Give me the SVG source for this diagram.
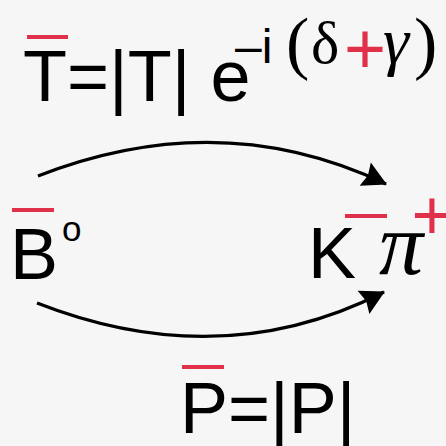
<svg xmlns="http://www.w3.org/2000/svg" width="446" height="446" viewBox="0 0 446 446">
  <defs>
    <marker id="arrow" markerUnits="userSpaceOnUse" markerWidth="34" markerHeight="34" viewBox="-28 -17 32 34" refX="0" refY="0" orient="auto">
      <path d="M1,0 L-23,-13 L-20,0 L-23,13 Z" fill="#000"/>
    </marker>
  </defs>
  <style>
    .sans { font-family: "Liberation Sans", Arial, sans-serif; fill: #000; }
    .serif { font-family: "Liberation Serif", "Times New Roman", serif; fill: #000; }
    .red { fill: #e0304a; }
    .bar { stroke: #e0304a; stroke-width: 4; }
    .conn { fill: none; stroke: #000; stroke-width: 3.2; marker-end: url(#arrow); }
  </style>
  <rect x="0" y="0" width="446" height="446" fill="#f6f6f6"/>

  <g id="connectors">
    <path class="conn" d="M38,176 Q220,105 386,184"/>
    <path class="conn" d="M37,303 Q221,375 384,292"/>
  </g>

  <g id="T-label">
    <line class="bar" x1="27" y1="37" x2="68" y2="37"/>
    <text class="sans" x="23" y="101" font-size="72">T=|T| e</text>
    <text class="sans" x="235" y="63" font-size="48">–i</text>
    <text class="serif" y="64"><tspan x="286" y="66" font-size="70">(</tspan><tspan x="311" y="63" font-size="60">δ</tspan><tspan class="red" x="344" y="73" font-size="72" font-family="Liberation Sans, Arial, sans-serif">+</tspan><tspan x="383" y="63" font-size="66" font-style="italic">γ</tspan><tspan x="414" y="66" font-size="70">)</tspan></text>
  </g>

  <g id="B0">
    <line class="bar" x1="12" y1="210" x2="54" y2="210"/>
    <text class="sans" x="10" y="279" font-size="72">B</text>
    <text class="sans" x="62" y="241" font-size="35">o</text>
  </g>

  <g id="Kpi">
    <line class="bar" x1="345" y1="216" x2="387" y2="216"/>
    <text class="sans" x="308" y="278" font-size="72">K</text>
    <text class="serif" x="379" y="274" font-size="88" font-style="italic">π</text>
    <text class="sans red" x="432" y="239" font-size="70" text-anchor="middle">+</text>
  </g>

  <g id="P-label">
    <line class="bar" x1="182" y1="367" x2="224" y2="367"/>
    <text class="sans" x="180" y="433" font-size="72">P=|P|</text>
  </g>
</svg>
